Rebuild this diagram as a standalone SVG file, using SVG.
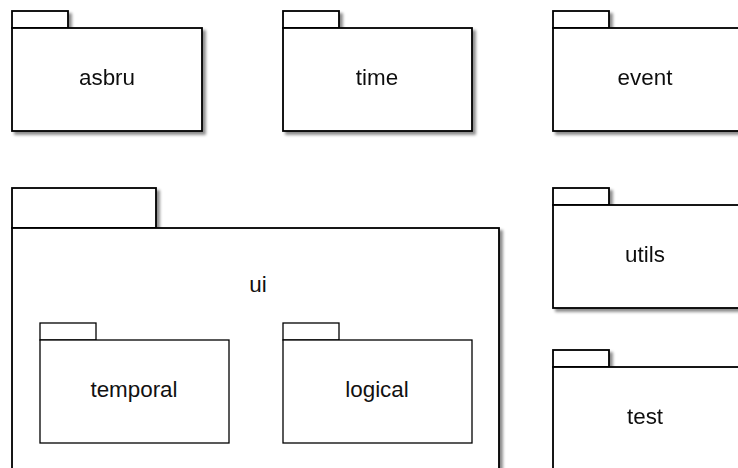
<svg xmlns="http://www.w3.org/2000/svg" width="738" height="468" viewBox="0 0 738 468">
<defs>
<filter id="sh" x="-10%" y="-10%" width="130%" height="130%">
<feDropShadow dx="3" dy="3" stdDeviation="1.5" flood-color="#000" flood-opacity="0.45"/>
</filter>
</defs>
<style>
.pk{fill:#fff;stroke:#000;stroke-width:1.8}
.in{fill:#fff;stroke:#000;stroke-width:1.3}
text{font-family:"Liberation Sans",Arial,sans-serif;font-size:22.4px;fill:#111;text-anchor:middle}
</style>
<rect width="738" height="468" fill="#fff"/>
<g id="asbru" filter="url(#sh)">
<rect class="pk" x="12" y="11" width="56" height="17"/>
<rect class="pk" x="12" y="28" width="190" height="103"/>
<text x="107" y="85">asbru</text>
</g>
<g id="time" filter="url(#sh)">
<rect class="pk" x="283" y="11" width="56" height="17"/>
<rect class="pk" x="283" y="28" width="189" height="103"/>
<text x="377" y="85">time</text>
</g>
<g id="event" filter="url(#sh)">
<rect class="pk" x="553" y="11" width="56" height="17"/>
<rect class="pk" x="553" y="28" width="192" height="103"/>
<text x="645" y="85">event</text>
</g>
<g id="utils" filter="url(#sh)">
<rect class="pk" x="553" y="188" width="56" height="17"/>
<rect class="pk" x="553" y="205" width="192" height="103"/>
<text x="645" y="262">utils</text>
</g>
<g id="test" filter="url(#sh)">
<rect class="pk" x="553" y="350" width="56" height="17"/>
<rect class="pk" x="553" y="367" width="192" height="110"/>
<text x="645" y="424">test</text>
</g>
<g id="ui">
<g filter="url(#sh)">
<rect class="pk" x="12" y="188" width="144" height="40"/>
<rect class="pk" x="12" y="228" width="487" height="250"/>
</g>
<text x="258" y="292">ui</text>
<g id="temporal">
<rect class="in" x="40" y="323" width="56" height="17"/>
<rect class="in" x="40" y="340" width="189" height="103"/>
<text x="134" y="397">temporal</text>
</g>
<g id="logical">
<rect class="in" x="283" y="323" width="56" height="17"/>
<rect class="in" x="283" y="340" width="189" height="103"/>
<text x="377" y="397">logical</text>
</g>
</g>
<g id="connectors"/>
</svg>
